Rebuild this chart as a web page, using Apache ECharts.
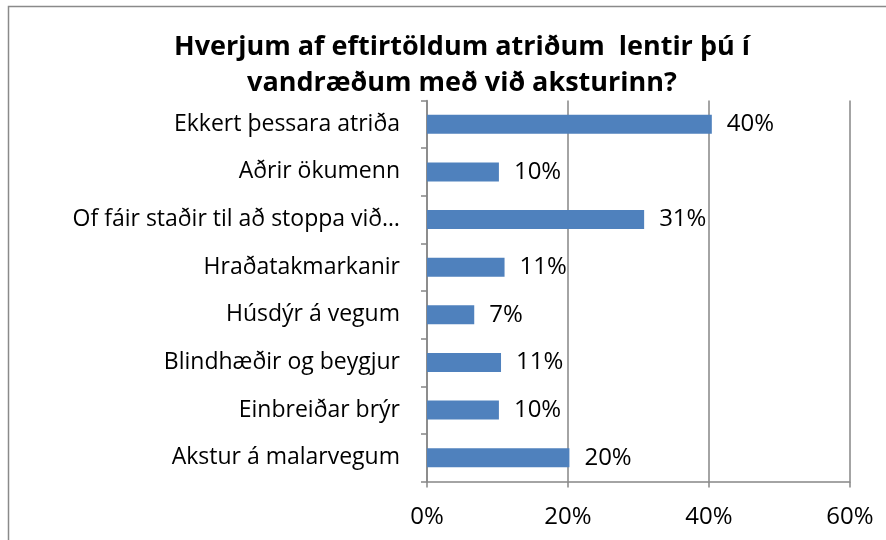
<!DOCTYPE html>
<html>
<head>
<meta charset="utf-8">
<script src="https://cdn.jsdelivr.net/npm/echarts@6/dist/echarts.min.js"></script>
<style>
html,body{margin:0;padding:0;background:#fff;}
#c{width:886px;height:540px;}
</style>
</head>
<body>
<div id="c"></div>
<script>
const titleText = "Hverjum af eftirtöldum atriðum  lentir þú í\nvandræðum með við aksturinn?";
const categories = [
  "Ekkert þessara atriða",
  "Aðrir ökumenn",
  "Of fáir staðir til að stoppa við…",
  "Hraðatakmarkanir",
  "Húsdýr á vegum",
  "Blindhæðir og beygjur",
  "Einbreiðar brýr",
  "Akstur á malarvegum"
];
const values = [40.4, 10.2, 30.8, 11.0, 6.7, 10.5, 10.2, 20.2];
const xTicks = [0, 20, 40, 60];

const FONT = "'Open Sans', 'Noto Sans', sans-serif";
const chart = echarts.init(document.getElementById('c'), null, {renderer: 'canvas'});
chart.setOption({
  backgroundColor: '#ffffff',
  animation: false,
  title: {
    text: titleText,
    left: 457,
    top: 24,
    textAlign: 'center',
    textStyle: {fontFamily: FONT, fontWeight: 'bold', fontSize: 27, lineHeight: 36, color: '#000'}
  },
  graphic: [{
    type: 'rect',
    shape: {x: 8.5, y: 6.5, width: 900, height: 600},
    style: {fill: 'none', stroke: '#8a8a8a', lineWidth: 1.5},
    silent: true
  }],
  grid: {left: 427, right: 36, top: 100.5, bottom: 58.5},
  xAxis: {
    type: 'value',
    min: xTicks[0],
    max: xTicks[xTicks.length - 1],
    interval: 20,
    axisLine: {show: true, lineStyle: {color: '#868686', width: 1.5}},
    axisTick: {show: true, length: 6, lineStyle: {color: '#868686', width: 1.5}},
    splitLine: {show: true, lineStyle: {color: '#868686', width: 1.5}},
    axisLabel: {formatter: '{value}%', fontFamily: FONT, fontSize: 24, color: '#000', margin: 24}
  },
  yAxis: {
    type: 'category',
    data: categories,
    inverse: true,
    axisLine: {show: true, lineStyle: {color: '#868686', width: 1.5}},
    axisTick: {show: true, length: 6, lineStyle: {color: '#868686', width: 1.5}},
    splitLine: {show: false},
    axisLabel: {fontFamily: FONT, fontSize: 23, color: '#000', margin: 27}
  },
  series: [{
    type: 'bar',
    data: values,
    barWidth: 19,
    itemStyle: {color: '#4f81bd'},
    label: {
      show: true,
      position: 'right',
      distance: 15,
      formatter: p => Math.round(p.value) + '%',
      fontFamily: FONT,
      fontSize: 24,
      color: '#000'
    }
  }]
});
</script>
</body>
</html>
